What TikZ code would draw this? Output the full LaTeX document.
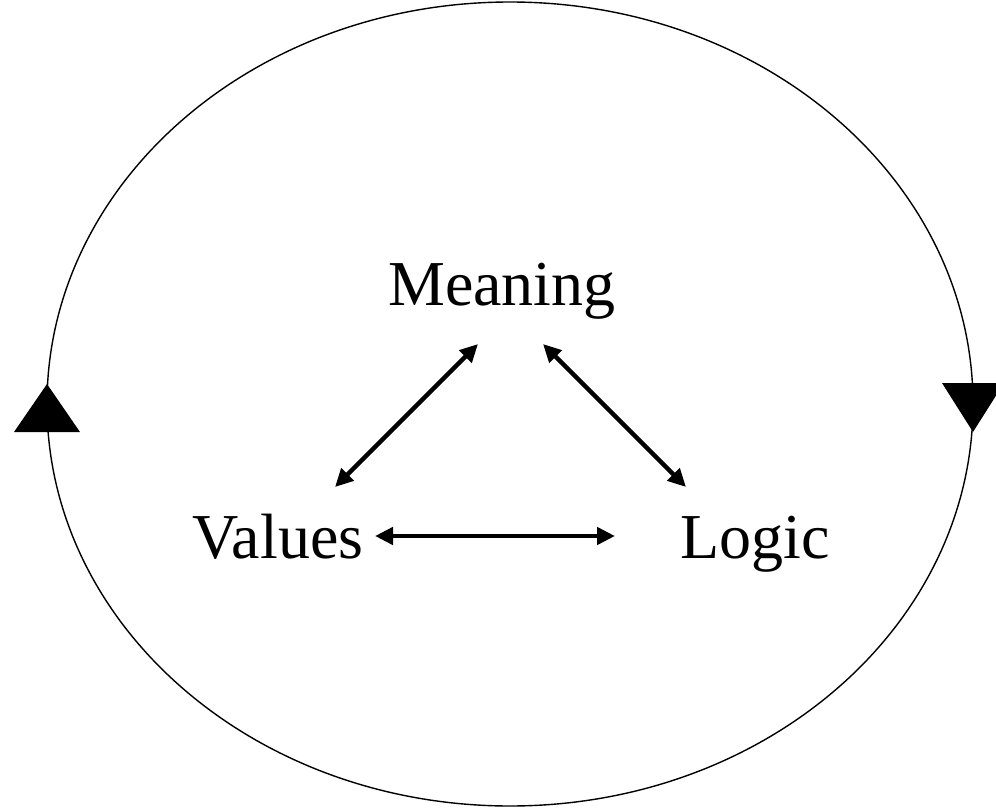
\documentclass[tikz,border=0pt]{standalone}
\usepackage{fontspec}
\setmainfont{Liberation Serif}
\usetikzlibrary{arrows.meta}
\begin{document}
\begin{tikzpicture}[x=1pt,y=-1pt,
  lbl/.style={font=\fontsize{64}{76}\selectfont, inner sep=0pt, anchor=base},
  link/.style={line width=4.5pt, {Triangle[length=18pt,width=17pt]}-{Triangle[length=18pt,width=17pt]}},
  marker/.style={fill=black}]
\useasboundingbox (0,0) rectangle (996,808);
\draw[line width=1.4pt] (510,404) ellipse [x radius=463, y radius=402];
\fill[marker] (47,384) -- (80,432) -- (14,432) -- cycle;
\fill[marker] (942,383) -- (1004,383) -- (973,432) -- cycle;
\node[lbl] (meaning) at (502,305) {Meaning};
\node[lbl] (values) at (278,558) {Values};
\node[lbl] (logic) at (755,558) {Logic};
\coordinate (m1) at (478,344);
\coordinate (v1) at (335,487);
\coordinate (m2) at (543,344);
\coordinate (l1) at (686,487);
\coordinate (v2) at (375,536);
\coordinate (l2) at (615,536);
\draw[link] (v1) -- (m1);
\draw[link] (m2) -- (l1);
\draw[link] (v2) -- (l2);
\end{tikzpicture}
\end{document}
